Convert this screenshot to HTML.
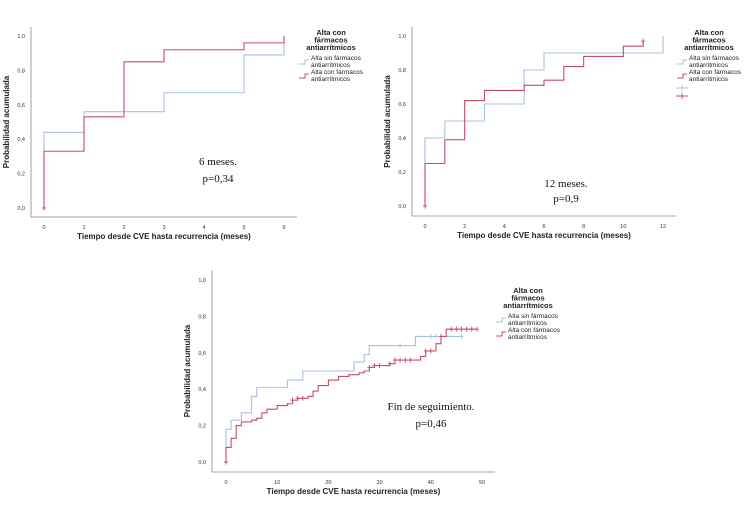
<!DOCTYPE html>
<html><head><meta charset="utf-8"><style>
body{margin:0;background:#fff;width:750px;height:500px;overflow:hidden}
svg{font-family:"Liberation Sans",sans-serif}
.sm{font-size:5.5px;fill:#333}
.ttl{font-size:8px;font-weight:bold;fill:#222}
.lg{font-size:6.5px;fill:#222}
.lgt{font-size:7.5px;font-weight:bold;fill:#222}
.ann{font-family:"Liberation Serif",serif;font-size:11px;fill:#111}
</style></head><body>
<svg id="s" width="750" height="500"></svg>
<script>
// Chart 1 (6 meses)
const c1Ticks=[0,1,2,3,4,5,6];
const c1BlueT=[0,1,3,5,6];const c1BlueV=[0.44,0.56,0.67,0.89,1.0];
const c1RedT=[0,1,2,3,5,6];const c1RedV=[0.33,0.53,0.85,0.92,0.96,1.0];
const c1BlueC=[];const c1RedC=[0];
// Chart 2 (12 meses)
const c2Ticks=[0,2,4,6,8,10,12];
const c2BlueT=[0,1,3,5,6,12];const c2BlueV=[0.4,0.5,0.6,0.8,0.9,1.0];
const c2RedT=[0,1,2,3,5,6,7,8,10,11];const c2RedV=[0.25,0.39,0.62,0.68,0.71,0.74,0.82,0.88,0.94,0.97];
const c2BlueC=[];const c2RedC=[0,11];
// Chart 3 (fin de seguimiento)
const c3Ticks=[0,10,20,30,40,50];
const c3BlueT=[0,1,3,5,6,12,15,25,27,28,37];const c3BlueV=[0.18,0.23,0.27,0.36,0.41,0.45,0.5,0.55,0.59,0.64,0.69];
const c3BlueEnd=46;
const c3RedT=[0,1,2,3,5,6,7,8,10,12,13,14,16,17,18,20,22,24,26,27,28,29,32,33,38,39,41,42,43];
const c3RedV=[0.08,0.13,0.2,0.22,0.23,0.24,0.27,0.29,0.31,0.32,0.34,0.35,0.36,0.39,0.42,0.45,0.47,0.48,0.49,0.5,0.52,0.53,0.54,0.56,0.58,0.61,0.65,0.69,0.73];
const c3RedEnd=49;
const c3BlueC=[34,40,41,42,46];const c3RedC=[0,13,14,15,28,29,30,32,33,34,35,36,39,40,42,44,45,46,47,48,49];
const yTicks=[0,0.2,0.4,0.6,0.8,1.0];
const BLUE="#a8c0e6",RED="#c84c68";
const S=document.getElementById('s');const NS="http://www.w3.org/2000/svg";
function el(t,a,txt){const e=document.createElementNS(NS,t);for(const k in a)e.setAttribute(k,a[k]);if(txt!==undefined)e.textContent=txt;S.appendChild(e);return e;}
function stepAt(T,V,t){let v=0;for(let i=0;i<T.length;i++)if(T[i]<=t)v=V[i];return v;}
function chart(o){
 const X=v=>o.x0+(v-o.xmin)/(o.xmax-o.xmin)*(o.x1-o.x0);
 const Y=v=>o.y0+(v)*(o.y1-o.y0);
 let e=el('path',{d:`M${o.ax},${o.top}V${o.bot}H${o.right}`,stroke:'#888','stroke-width':0.8,fill:'none'});
 
 yTicks.forEach(t=>{e=el('text',{x:o.ax-6,y:Y(t)+2,'text-anchor':'end',class:'sm'},t.toFixed(1).replace('.',','));
  });
 o.ticks.forEach(t=>{e=el('text',{x:X(t),y:o.bot+12,'text-anchor':'middle',class:'sm'},t);
  });
 e=el('text',{x:(o.ax+o.right)/2,y:o.bot+22,'text-anchor':'middle',class:'ttl'},'Tiempo desde CVE hasta recurrencia (meses)');
 
 const yc=(o.top+o.bot)/2;
 e=el('text',{x:o.ax-22,y:yc,'text-anchor':'middle',class:'ttl',transform:`rotate(-90 ${o.ax-22} ${yc})`},'Probabilidad acumulada');
 
 [[o.bT,o.bV,o.bEnd,BLUE,'blue',o.bC],[o.rT,o.rV,o.rEnd,RED,'red',o.rC]].forEach(([T,V,end,c,n,C])=>{
  let d=`M${X(T[0])},${Y(0)}`;
  for(let i=0;i<T.length;i++){d+=`V${Y(V[i])}`;const nx=i+1<T.length?T[i+1]:end;d+=`H${X(nx)}`;}
  e=el('path',{d,stroke:c,'stroke-width':1.1,fill:'none'});
  
  C.forEach(t=>{const v=t===0?0:stepAt(T,V,t),cx=X(t),cy=Y(v);
   e=el('path',{d:`M${cx-2},${cy}H${cx+2}M${cx},${cy-2.5}V${cy+2.5}`,stroke:c,'stroke-width':0.9});
   });
 });
 o.ann.forEach((s,i)=>{e=el('text',{x:o.annX,y:o.annY+i*o.annG,'text-anchor':'middle',class:'ann'},s);
  });
 ['Alta con','fármacos','antiarrítmicos'].forEach((s,i)=>{e=el('text',{x:o.lx,y:o.ly+i*7.5,'text-anchor':'middle',class:'lgt'},s);
  });
 [['Alta sin fármacos',BLUE],['Alta con fármacos',RED]].forEach(([s,c],i)=>{
  const yy=o.ly+25+i*14,tx=o.lx-20;
  e=el('path',{d:`M${tx-12},${yy+4}H${tx-6}V${yy}H${tx-2}`,stroke:c,'stroke-width':1,fill:'none'});
  
  e=el('text',{x:tx,y:yy,class:'lg'},s);
  e=el('text',{x:tx,y:yy+7,class:'lg'},'antiarrítmicos');
 });
 if(o.cross){[BLUE,RED].forEach((c,i)=>{const yy=o.ly+53+i*8,cx=o.lx-27;
  e=el('path',{d:`M${cx-6},${yy}H${cx+6}M${cx},${yy-3}V${yy+3}`,stroke:c,'stroke-width':1});
  });}
}
chart({id:'chart-6m',xmin:0,xmax:6,x0:44,x1:284,y0:208,y1:36,ax:31,top:27,bot:217,right:297,ticks:c1Ticks,
 bT:c1BlueT,bV:c1BlueV,bEnd:6,rT:c1RedT,rV:c1RedV,rEnd:6,bC:c1BlueC,rC:c1RedC,
 ann:['6 meses.','p=0,34'],annX:218,annY:165,annG:17,lx:331,ly:35,cross:false});
chart({id:'chart-12m',xmin:0,xmax:12,x0:425,x1:663,y0:206,y1:36,ax:412,top:27,bot:216,right:676,ticks:c2Ticks,
 bT:c2BlueT,bV:c2BlueV,bEnd:12,rT:c2RedT,rV:c2RedV,rEnd:11,bC:c2BlueC,rC:c2RedC,
 ann:['12 meses.','p=0,9'],annX:566,annY:187,annG:15,lx:709,ly:35,cross:true});
chart({id:'chart-fin',xmin:0,xmax:50,x0:226,x1:482,y0:462,y1:280,ax:212,top:270,bot:472,right:495,ticks:c3Ticks,
 bT:c3BlueT,bV:c3BlueV,bEnd:c3BlueEnd,rT:c3RedT,rV:c3RedV,rEnd:c3RedEnd,bC:c3BlueC,rC:c3RedC,
 ann:['Fin de seguimiento.','p=0,46'],annX:431,annY:410,annG:17,lx:528,ly:293,cross:false});
</script>
</body></html>
